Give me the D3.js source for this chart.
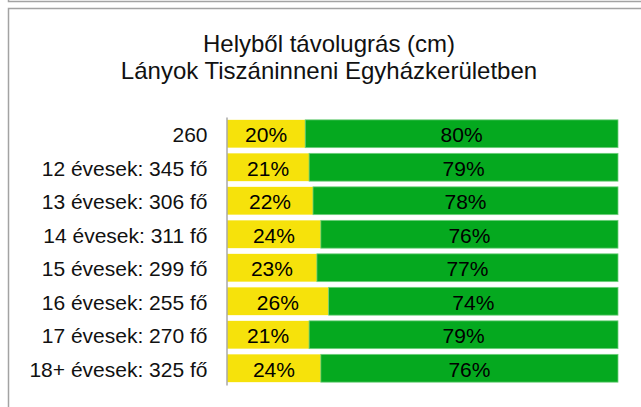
<!DOCTYPE html>
<html>
<head>
<meta charset="utf-8">
<script src="https://cdn.jsdelivr.net/npm/d3@7"></script>
<style>
  html, body { margin: 0; padding: 0; background: #fff; }
  svg { display: block; font-family: "Liberation Sans", Arial, sans-serif; }
</style>
</head>
<body>
<svg id="chart" width="641" height="407"></svg>
<script>
// Standing long jump results, share of each age group per category
const categories = [
  "260",
  "12 évesek: 345 fő",
  "13 évesek: 306 fő",
  "14 évesek: 311 fő",
  "15 évesek: 299 fő",
  "16 évesek: 255 fő",
  "17 évesek: 270 fő",
  "18+ évesek: 325 fő"
];
const yellowShare = [20, 21, 22, 24, 23, 26, 21, 24];
const greenShare  = [80, 79, 78, 76, 77, 74, 79, 76];
const seriesColors = ["#f6e20b", "#05a91f"];
const titleLines = ["Helyből távolugrás (cm)", "Lányok Tiszáninneni Egyházkerületben"];

const svg = d3.select("#chart");

// Panel frames
svg.append("path")
  .attr("d", "M8.5,0 V1.5 H641")
  .attr("fill", "none").attr("stroke", "#a3a3a3").attr("stroke-width", 1.5);
svg.append("path")
  .attr("d", "M8.5,407 V8.5 H641")
  .attr("fill", "none").attr("stroke", "#a3a3a3").attr("stroke-width", 1.5);

// Title
svg.append("g").selectAll("text")
  .data(titleLines)
  .join("text")
  .attr("x", 329)
  .attr("y", (d, i) => 52 + i * 26.5)
  .attr("text-anchor", "middle")
  .attr("font-size", 24)
  .attr("fill", "#111")
  .text(d => d);

const x = d3.scaleLinear().domain([0, 100]).range([227, 618]);
const y = d3.scaleBand().domain(categories).range([117, 385]).paddingInner(0.17).paddingOuter(0.085);

const rows = categories.map((c, i) => ({
  cat: c,
  segs: [
    { start: 0, value: yellowShare[i], color: seriesColors[0] },
    { start: yellowShare[i], value: greenShare[i], color: seriesColors[1] }
  ]
}));

const rowG = svg.append("g").selectAll("g")
  .data(rows)
  .join("g")
  .attr("transform", d => `translate(0,${y(d.cat)})`);

rowG.selectAll("rect")
  .data(d => d.segs)
  .join("rect")
  .attr("x", d => x(d.start))
  .attr("y", 0)
  .attr("width", d => x(d.start + d.value) - x(d.start))
  .attr("height", y.bandwidth())
  .attr("fill", d => d.color)
  .attr("stroke", (d, i) => i === 1 ? "#6fcf7c" : "none")
  .attr("stroke-width", 0.8);

rowG.selectAll("text")
  .data(d => d.segs)
  .join("text")
  .attr("x", d => (x(d.start) + x(d.start + d.value)) / 2)
  .attr("y", y.bandwidth() / 2 + 8.5)
  .attr("text-anchor", "middle")
  .attr("font-size", 21)
  .attr("fill", "#000")
  .text(d => d.value + "%");

// Category axis
const axis = d3.axisLeft(y).tickSize(0).tickPadding(19);
const axG = svg.append("g").attr("transform", "translate(226.5,0)").call(axis);
axG.select(".domain").attr("stroke", "#a8a8a8").attr("stroke-width", 1.5);
axG.selectAll("text")
  .attr("font-size", 21)
  .attr("fill", "#111")
  .attr("font-family", "Liberation Sans, Arial, sans-serif")
  .attr("dy", "0.4em");
</script>
</body>
</html>
